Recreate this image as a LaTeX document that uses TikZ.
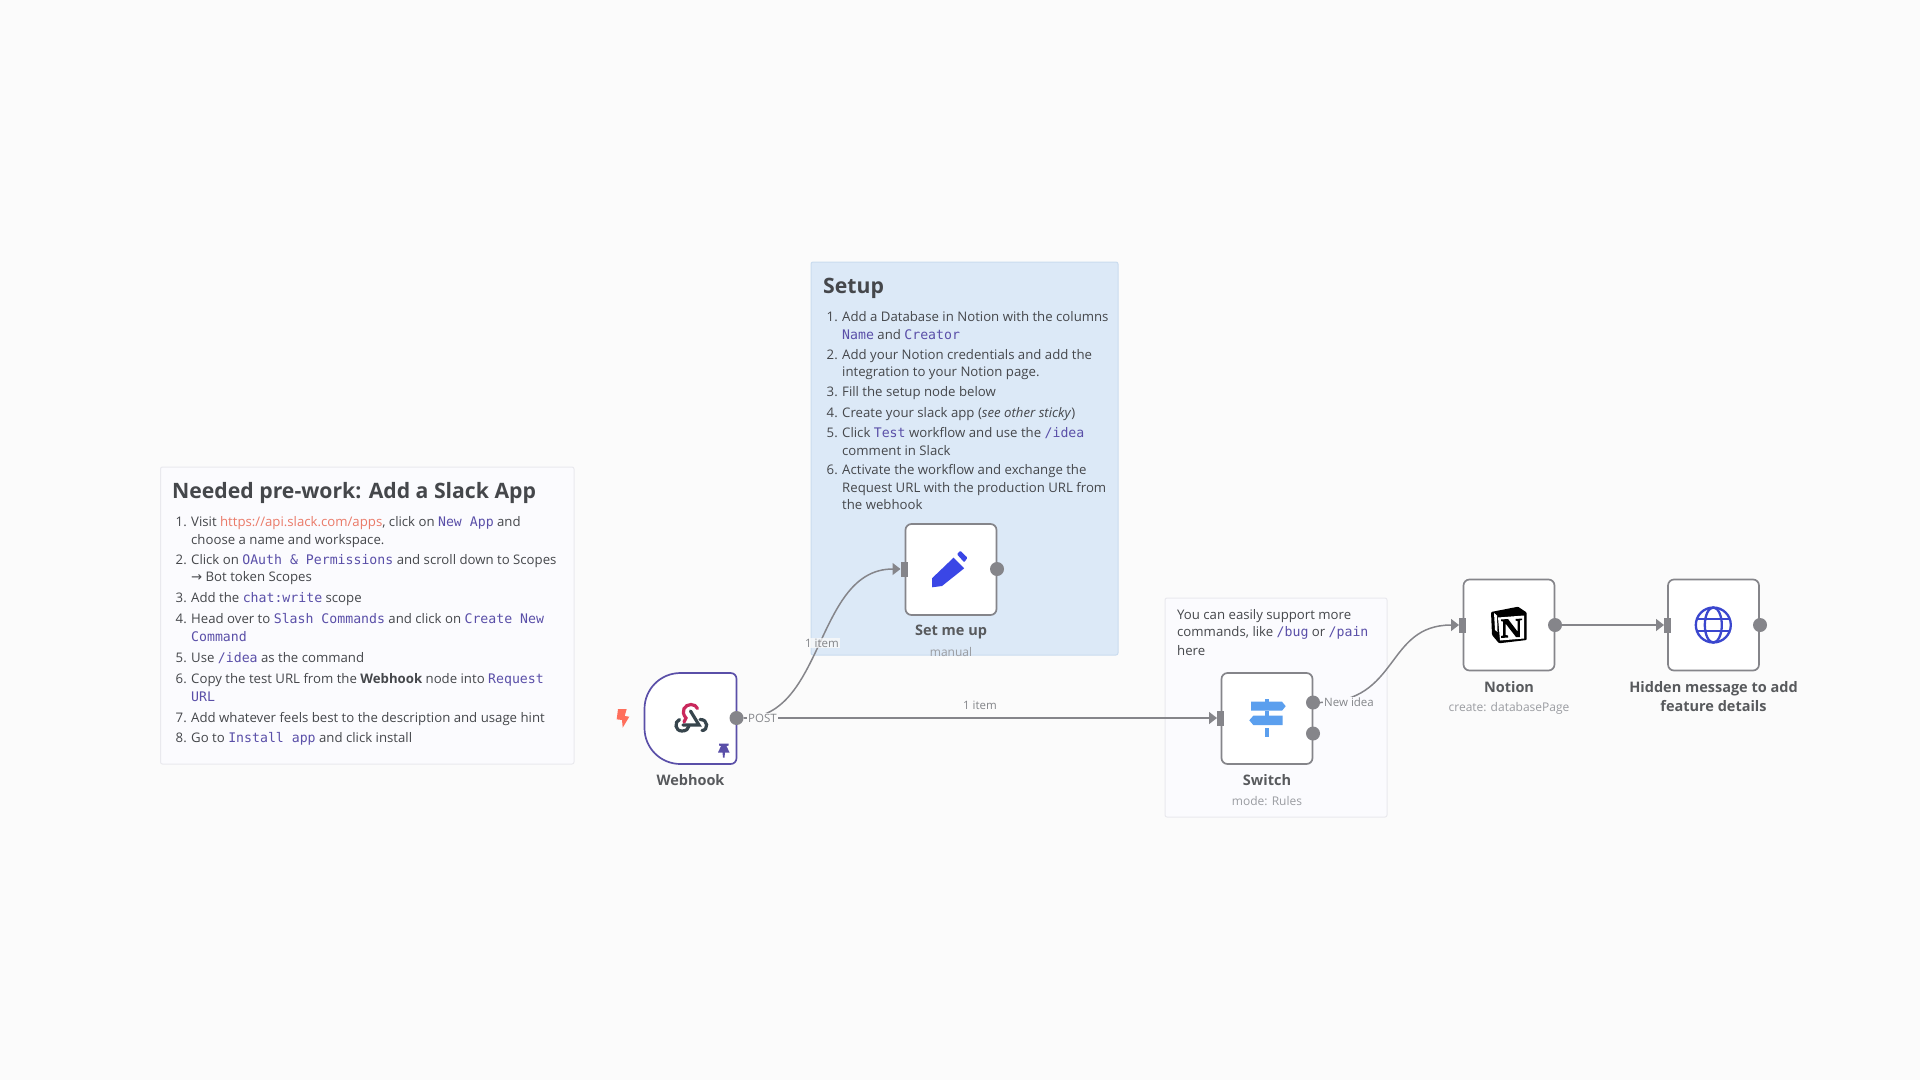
\documentclass[tikz,border=0pt]{standalone}
\usepackage{fontspec}
\setmainfont{Open Sans}
\setmonofont{DejaVu Sans Mono}
\newfontfamily\arrowfont{DejaVu Sans}
\usetikzlibrary{calc,shapes,arrows.meta}

\definecolor{canvas}{HTML}{FBFBFB}
\definecolor{inktext}{HTML}{45474B}
\definecolor{greytext}{HTML}{9A9CA1}
\definecolor{wiregrey}{HTML}{85858A}
\definecolor{codepurple}{HTML}{5A4FA8}
\definecolor{linkred}{HTML}{EA7A68}
\definecolor{stickyblue}{HTML}{DCE9F7}
\definecolor{stickyblueline}{HTML}{CADCEF}
\definecolor{stickypale}{HTML}{FBFBFE}
\definecolor{stickypaleline}{HTML}{E9E9EE}
\definecolor{pencilblue}{HTML}{3A46E6}
\definecolor{globeblue}{HTML}{3A46CE}
\definecolor{signblue}{HTML}{5B9FEE}
\definecolor{hookred}{HTML}{C9285C}
\definecolor{hookdark}{HTML}{37454D}
\definecolor{boltred}{HTML}{FF6F5C}

\newcommand{\cd}[1]{{\ttfamily\color{codepurple}#1}}

\tikzset{
    flownode/.style={draw=wiregrey, fill=white, line width=1.7pt, rounded corners=6pt, minimum size=91pt, inner sep=0pt, outer sep=0pt},
    outport/.style={circle, fill=wiregrey, minimum size=14pt, inner sep=0pt, outer sep=0pt},
    inport/.style={rectangle, fill=wiregrey, minimum width=7pt, minimum height=15pt, inner sep=0pt, outer sep=0pt},
    wire/.style={draw=wiregrey, line width=1.5pt, -{Triangle[length=8pt,width=12pt]}},
    sticky/.style={rounded corners=2pt, line width=1pt},
    bodyline/.style={anchor=base west, inner sep=0pt, text=inktext, font=\fontsize{13.2}{15}\selectfont},
    numline/.style={anchor=base east, inner sep=0pt, text=inktext, font=\fontsize{13.2}{15}\selectfont},
    headline/.style={anchor=base west, inner sep=0pt, text=inktext, font=\fontsize{21.2}{26}\selectfont\bfseries},
    nodetitle/.style={inner sep=0pt, text=inktext!90!white, font=\fontsize{14.5}{18.7}\selectfont\bfseries},
    nodesub/.style={inner sep=0pt, text=greytext, font=\fontsize{12}{14}\selectfont},
    wiretext/.style={inner sep=1pt, text=greytext!85!black, font=\fontsize{11.5}{14}\selectfont},
}

\begin{document}
\begin{tikzpicture}[x=1pt,y=-1pt]
    \useasboundingbox (0,0) rectangle (1920,1080);
    \fill[canvas] (0,0) rectangle (1920,1080);

    \draw[sticky,draw=stickypaleline,fill=stickypale] (160.5,467) rectangle (574,764);
    \draw[sticky,draw=stickyblueline,fill=stickyblue] (811,262) rectangle (1118,655);
    \draw[sticky,draw=stickypaleline,fill=stickypale] (1165,598) rectangle (1387,817);

    % sticky texts
    \node[headline] (slacktitle) at (172,498) {Needed pre-work: Add a Slack App};
    \foreach \y/\txt [count=\i] in {
        526.5/{Visit {\color{linkred}https://api.slack.com/apps}, click on \cd{New App} and},
        544.5/{choose a name and workspace.},
        564/{Click on \cd{OAuth \& Permissions} and scroll down to Scopes},
        581.5/{{\arrowfont →} Bot token Scopes},
        602/{Add the \cd{chat:write} scope},
        623/{Head over to \cd{Slash Commands} and click on \cd{Create New}},
        641/{\cd{Command}},
        662/{Use \cd{/idea} as the command},
        683/{Copy the test URL from the \textbf{Webhook} node into \cd{Request}},
        701/{\cd{URL}},
        722/{Add whatever feels best to the description and usage hint},
        742/{Go to \cd{Install app} and click install}}
        \node[bodyline] (slackline\i) at (191,\y) {\txt};
    \foreach \y [count=\i] in {526.5,564,602,623,662,683,722,742}
        \node[numline] (slacknum\i) at (187,\y) {\i.};

    \node[headline] (setuptitle) at (823,293) {Setup};
    \foreach \y/\txt [count=\i] in {
        321.5/{Add a Database in Notion with the columns},
        339.5/{\cd{Name} and \cd{Creator}},
        359.5/{Add your Notion credentials and add the},
        376.5/{integration to your Notion page.},
        396.5/{Fill the setup node below},
        417/{Create your slack app (\textit{see other sticky})},
        437/{Click \cd{Test} workflow and use the \cd{/idea}},
        455/{comment in Slack},
        474.5/{Activate the workflow and exchange the},
        492/{Request URL with the production URL from},
        509.5/{the webhook}}
        \node[bodyline] (setupline\i) at (842,\y) {\txt};
    \foreach \y [count=\i] in {321.5,359.5,396.5,417,437,474.5}
        \node[numline] (setupnum\i) at (838,\y) {\i.};

    \node[bodyline] (moreline1) at (1177,619.5) {You can easily support more};
    \node[bodyline] (moreline2) at (1177,636.5) {commands, like \cd{/bug} or \cd{/pain}};
    \node[bodyline] (moreline3) at (1177,655.5) {here};

    % nodes
    \draw[draw=codepurple,fill=white,line width=1.7pt] (680.5,673) -- (730.5,673) .. controls (734,673) and (736.5,675.5) .. (736.5,679) -- (736.5,758) .. controls (736.5,761.5) and (734,764) .. (730.5,764) -- (680.5,764) .. controls (660.5,764) and (644.5,748) .. (644.5,728) -- (644.5,709) .. controls (644.5,689) and (660.5,673) .. (680.5,673) -- cycle;
    \node[flownode] (setme) at (951,569.5) {};
    \node[flownode] (switch) at (1267,718.5) {};
    \node[flownode] (notion) at (1509,625) {};
    \node[flownode] (hidden) at (1713.5,625) {};

    % ports
    \node[inport] (setmein) at (904,569) {};
    \node[inport] (switchin) at (1220.5,718) {};
    \node[inport] (notionin) at (1462.5,625) {};
    \node[inport] (hiddenin) at (1667.5,625) {};
    \node[outport] (hookout) at (736.5,718) {};
    \node[outport] (setmeout) at (997,569) {};
    \node[outport] (switchouta) at (1313,702.5) {};
    \node[outport] (switchoutb) at (1313,733.5) {};
    \node[outport] (notionout) at (1555,625) {};
    \node[outport] (hiddenout) at (1760,625) {};

    % wires
    \draw[wire] (hookout) .. controls (825,718) and (815,569) .. (setmein);
    \draw[wire] (hookout) -- (switchin);
    \draw[wire] (switchouta) .. controls (1400,702.5) and (1385,625) .. (notionin);
    \draw[wire] (notionout) -- (hiddenin);

    \node[wiretext,fill=canvas] (postlabel) at (762.5,718) {POST};
    \node[wiretext,fill=stickypale] (ideaabel) at (1349,702) {New idea};
    \node[wiretext,fill=canvas,fill opacity=0.75,text opacity=1] (itemlabela) at (822,643) {1 item};
    \node[wiretext] (itemlabelb) at (980,705.5) {1 item};

    % labels
    \node[nodetitle] (hooktitle) at (690.5,780) {Webhook};
    \node[nodetitle] (setmetitle) at (951,631.5) {Set me up};
    \node[nodesub] (setmesub) at (951,652) {manual};
    \node[nodetitle] (switchtitle) at (1267,780) {Switch};
    \node[nodesub] (switchsub) at (1267,801) {mode: Rules};
    \node[nodetitle] (notiontitle) at (1509,687) {Notion};
    \node[nodesub] (notionsub) at (1509,708) {create: databasePage};
    \node[nodetitle,align=center] (hiddentitle) at (1713.5,696.5) {Hidden message to add\\feature details};

    % icons
    \fill[boltred] (618,709) -- (626.7,709) -- (624.7,716) -- (629.3,716.7) -- (622.7,727.7) -- (622,720) -- (616.7,719.3) -- cycle;
    \draw[hookdark,line width=3.2pt,line cap=round] (690.5,711) -- (699,725) -- (683,725);
    \draw[hookdark,line width=3.2pt,line cap=round] (679.5,719.5) .. controls (674,722) and (675,731) .. (682,731) .. controls (686,731) and (688.5,729) .. (689,726);
    \draw[hookdark,line width=3.2pt,line cap=round] (702,730.5) .. controls (708.5,730.5) and (708.5,719) .. (700,719.5);
    \draw[hookred,line width=3.2pt,line cap=round] (684,722) -- (686,718) .. controls (680,711) and (685,704.5) .. (691,704.5) .. controls (694,704.5) and (696.5,706) .. (697.5,708.5);
    \fill[codepurple] (719,743.5) -- (728.5,743.5) -- (728.5,745.5) -- (726.5,746) -- (729.5,752.5) -- (725,752.5) -- (724.5,757.5) -- (723,757.5) -- (722.5,752.5) -- (718,752.5) -- (721,746) -- (719,745.5) -- cycle;

    \fill[pencilblue] (932,578.3) -- (953.5,557.7) -- (964.2,568.3) -- (942,586) -- (932,587.3) -- cycle;
    \fill[pencilblue,rounded corners=1pt] (957,554.3) -- (960.2,550.7) -- (967.5,557.7) -- (964.2,562.3) -- cycle;

    \fill[signblue] (1265,699.3) rectangle (1269,702);
    \fill[signblue] (1251,701.7) -- (1282,701.7) -- (1285.7,706.2) -- (1282,710.7) -- (1251,710.7) -- cycle;
    \fill[signblue] (1265,710.7) rectangle (1269,715.7);
    \fill[signblue] (1253.3,715.7) -- (1282.7,715.7) -- (1282.7,725) -- (1253.3,725) -- (1249.3,720.3) -- cycle;
    \fill[signblue] (1265,728) rectangle (1269,736.5);

    \fill[black,rounded corners=1pt] (1491,612) -- (1518,606.7) -- (1526.7,612.5) -- (1526.7,640) -- (1499,643.3) -- (1492,635) -- cycle;
    \fill[white] (1498,617.5) -- (1524,615.5) -- (1524,638.5) -- (1500,640.5) -- cycle;
    \fill[white] (1494,613) -- (1497,615.5) -- (1497.5,632) -- (1495,630) -- cycle;
    \fill[black] (1501,619.5) -- (1508,619) -- (1517.5,631.5) -- (1517.5,621) -- (1515.5,620.5) -- (1515.5,619) -- (1522,618.5) -- (1522,620) -- (1519.8,620.5) -- (1519.8,637) -- (1516,637) -- (1505.5,623.5) -- (1505.5,635) -- (1508,635.5) -- (1508,637.5) -- (1501,638) -- (1501,636) -- (1503,635.5) -- (1503,621.5) -- (1501,621) -- cycle;

    \draw[globeblue,line width=2.3pt] (1713.3,625) circle (17.5);
    \draw[globeblue,line width=2.3pt] (1713.3,625) ellipse (8.5 and 17.5);
    \draw[globeblue,line width=2.3pt] (1698,619.3) -- (1728.6,619.3);
    \draw[globeblue,line width=2.3pt] (1698,630.7) -- (1728.6,630.7);
\end{tikzpicture}
\end{document}
